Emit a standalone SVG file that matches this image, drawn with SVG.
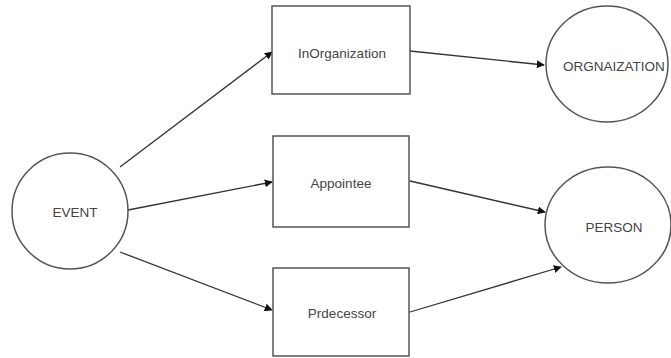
<svg xmlns="http://www.w3.org/2000/svg" width="671" height="358" viewBox="0 0 671 358">
<style>
.n{fill:#fff;stroke:#555;stroke-width:1.5}
.t{font-family:"Liberation Sans",Arial,sans-serif;font-size:13.5px;fill:#444;text-anchor:middle;dominant-baseline:central}
.c{stroke:#333;stroke-width:1.3;fill:none;marker-end:url(#a)}
</style>
<defs>
<marker id="a" viewBox="0 0 10 10" refX="9" refY="5" markerWidth="8" markerHeight="8" markerUnits="userSpaceOnUse" orient="auto">
<path d="M0,0 L10,5 L0,10 z" fill="#111"/>
</marker>
</defs>
<rect width="671" height="358" fill="#fff"/>
<g id="connectors">
<line class="c" x1="120" y1="167" x2="272" y2="52"/>
<line class="c" x1="128" y1="210" x2="272" y2="182"/>
<line class="c" x1="120" y1="252" x2="272" y2="310"/>
<line class="c" x1="410" y1="51" x2="544" y2="65"/>
<line class="c" x1="410" y1="181" x2="545" y2="212"/>
<line class="c" x1="410" y1="312" x2="561" y2="267"/>
</g>
<g id="event">
<ellipse class="n" cx="70" cy="211" rx="58" ry="58"/>
<text class="t" x="75" y="212">EVENT</text>
</g>
<g id="inorganization">
<rect class="n" x="272" y="6" width="138" height="88"/>
<text class="t" x="342" y="53">InOrganization</text>
</g>
<g id="appointee">
<rect class="n" x="273" y="136" width="136" height="91"/>
<text class="t" x="341" y="183">Appointee</text>
</g>
<g id="prdecessor">
<rect class="n" x="273" y="268" width="136" height="88"/>
<text class="t" x="342" y="313">Prdecessor</text>
</g>
<g id="orgnaization">
<ellipse class="n" cx="607" cy="64" rx="61" ry="58"/>
<text class="t" x="614" y="66">ORGNAIZATION</text>
</g>
<g id="person">
<ellipse class="n" cx="608" cy="225" rx="63" ry="58"/>
<text class="t" x="614" y="227">PERSON</text>
</g>
</svg>
